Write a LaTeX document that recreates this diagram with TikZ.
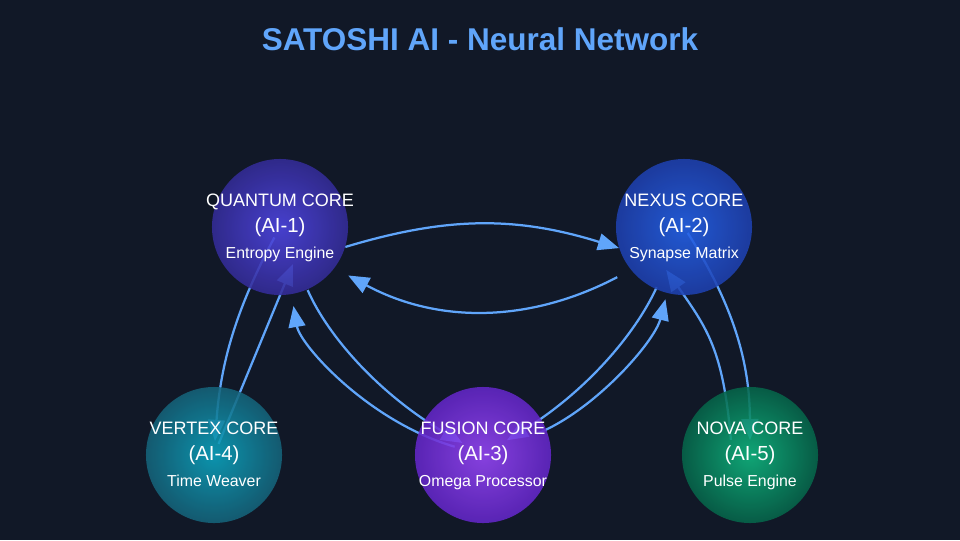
\documentclass[tikz,border=0pt]{standalone}
\usepackage{fontspec}
\setmainfont{Liberation Sans}
\usetikzlibrary{arrows.meta}

\definecolor{bgnavy}{HTML}{111827}
\definecolor{linkblue}{HTML}{60A5FA}
\definecolor{quantumin}{HTML}{4F46E5}
\definecolor{quantumout}{HTML}{342C98}
\definecolor{nexusin}{HTML}{2563EB}
\definecolor{nexusout}{HTML}{1E40AF}
\definecolor{fusionin}{HTML}{9747F8}
\definecolor{fusionout}{HTML}{6326C8}
\definecolor{vertexin}{HTML}{0BA5C0}
\definecolor{vertexout}{HTML}{15637A}
\definecolor{novain}{HTML}{10B981}
\definecolor{novaout}{HTML}{06654A}

\pgfdeclarelayer{back}
\pgfdeclarelayer{links}
\pgfsetlayers{back,links,main}

\tikzset{
  core/.style={circle, minimum size=3.4cm, inner sep=0pt, fill opacity=0.88},
  corename/.style={anchor=base, text=white, font=\fontsize{12.8}{15}\selectfont},
  coreid/.style={anchor=base, text=white, font=\fontsize{14.5}{17}\selectfont},
  coresub/.style={anchor=base, text=white, font=\fontsize{11.3}{13}\selectfont},
  link/.style={linkblue, line width=1.6pt, -{Triangle[length=15pt,width=12pt]}},
}

\begin{document}
\begin{tikzpicture}[x=0.025cm, y=-0.025cm]
\begin{pgfonlayer}{back}
\fill[bgnavy] (0,0) rectangle (960,540);
\end{pgfonlayer}
\useasboundingbox (0,0) rectangle (960,540);
%
\node[anchor=base, text=linkblue, font=\bfseries\fontsize{22.4}{26}\selectfont] (title) at (480,50) {SATOSHI AI - Neural Network};
%
\node[core, inner color=quantumin, outer color=quantumout] (q) at (280,227) {};
\node[corename] (q-name) at ([yshift=14.6pt]q.center) {QUANTUM CORE};
\node[coreid] (q-id) at ([yshift=-4.2pt]q.center) {(AI-1)};
\node[coresub] (q-sub) at ([yshift=-22.7pt]q.center) {Entropy Engine};
%
\node[core, inner color=nexusin, outer color=nexusout] (n) at (684,227) {};
\node[corename] (n-name) at ([yshift=14.6pt]n.center) {NEXUS CORE};
\node[coreid] (n-id) at ([yshift=-4.2pt]n.center) {(AI-2)};
\node[coresub] (n-sub) at ([yshift=-22.7pt]n.center) {Synapse Matrix};
%
\node[core, inner color=fusionin, outer color=fusionout] (f) at (483,455) {};
\node[corename] (f-name) at ([yshift=14.6pt]f.center) {FUSION CORE};
\node[coreid] (f-id) at ([yshift=-4.2pt]f.center) {(AI-3)};
\node[coresub] (f-sub) at ([yshift=-22.7pt]f.center) {Omega Processor};
%
\node[core, inner color=vertexin, outer color=vertexout] (v) at (214,455) {};
\node[corename] (v-name) at ([yshift=14.6pt]v.center) {VERTEX CORE};
\node[coreid] (v-id) at ([yshift=-4.2pt]v.center) {(AI-4)};
\node[coresub] (v-sub) at ([yshift=-22.7pt]v.center) {Time Weaver};
%
\node[core, inner color=novain, outer color=novaout] (nv) at (750,455) {};
\node[corename] (nv-name) at ([yshift=14.6pt]nv.center) {NOVA CORE};
\node[coreid] (nv-id) at ([yshift=-4.2pt]nv.center) {(AI-5)};
\node[coresub] (nv-sub) at ([yshift=-22.7pt]nv.center) {Pulse Engine};
%
\begin{pgfonlayer}{links}
% quantum <-> nexus
\draw[link] (q.-17) to[bend left=17] (n.-162);
\draw[link, shorten <=11pt, shorten >=11pt] (n.-141) to[bend left=28] (q.-37);
% quantum <-> vertex
\draw[link, shorten <=8.5pt, shorten >=10pt] (q.center) to[bend right=12] (v.center);
\draw[link, shorten <=8.5pt, shorten >=-24pt] (v.center) -- (q.south);
% quantum <-> fusion
\draw[link, shorten <=21pt, shorten >=57pt] (f.center) to[bend left=32] (q.center);
\draw[link, shorten <=49pt, shorten >=17pt] (q.center) to[bend right=18] (f.center);
% nexus <-> fusion
\draw[link, shorten <=47pt, shorten >=20pt] (n.center) to[bend left=17] (f.center);
\draw[link, shorten <=41pt, shorten >=53pt] (f.center) to[bend right=27] (n.center);
% nexus <-> nova
\draw[link, shorten <=5pt, shorten >=10.6pt] (n.center) to[bend left=16] (nv.center);
\draw[link, shorten <=-35pt, shorten >=-22pt] (nv.110) to[out=95, in=-55] (n.south);
\end{pgfonlayer}
\end{tikzpicture}
\end{document}
